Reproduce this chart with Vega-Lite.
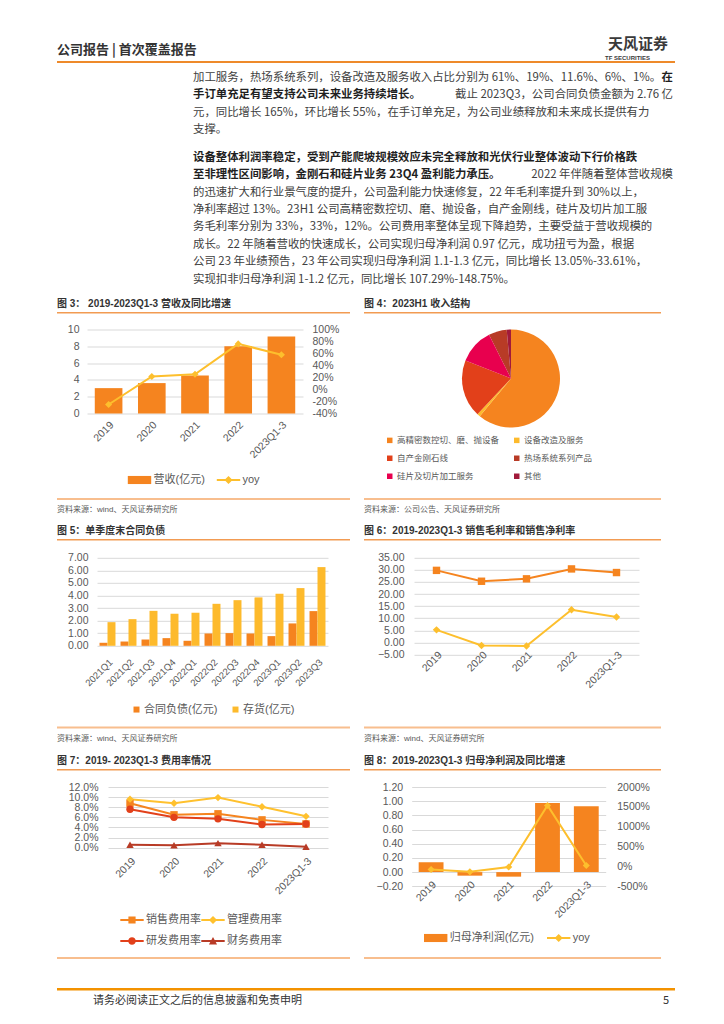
{
  "$schema": "https://vega.github.io/schema/vega-lite/v6.json",
  "background": "#ffffff",
  "padding": {"left": 57, "top": 37, "right": 10, "bottom": 10},
  "spacing": 13,
  "resolve": {"scale": {"color": "independent", "shape": "independent"}, "legend": {"color": "independent", "shape": "independent"}},
  "config": {
    "font": "Liberation Sans, Noto Sans CJK SC, sans-serif",
    "view": {"stroke": null},
    "axis": {"labelFontSize": 10.5, "labelColor": "#595959", "ticks": false, "domain": false, "gridColor": "#D9D9D9", "labelOverlap": false, "labelFont": "Liberation Sans, Noto Sans CJK SC, sans-serif"},
    "axisX": {"labelAngle": -45, "labelPadding": 6, "grid": false},
    "legend": {"labelFontSize": 11, "labelColor": "#595959", "labelFont": "Liberation Sans, Noto Sans CJK SC, sans-serif", "orient": "bottom", "direction": "horizontal", "symbolStrokeWidth": 0, "layout": {"bottom": {"anchor": "middle", "direction": "vertical", "margin": 7, "center": true}}},
    "title": {"fontSize": 10, "fontWeight": "bold", "color": "#333333", "anchor": "start", "font": "Liberation Sans, Noto Sans CJK SC, sans-serif"},
    "text": {"font": "Noto Sans CJK SC, sans-serif"}
  },
  "datasets": {
    "header": [{"label": "公司报告 | 首次覆盖报告"}],
    "brand": [{"name": "天风证券", "en": "TF SECURITIES"}],
    "footer": [{"note": "请务必阅读正文之后的信息披露和免责申明", "page": "5"}],
    "p1": [
      {"line": 1, "part": "head", "text": "加工服务，热场系统系列，设备改造及服务收入占比分别为 61%、19%、11.6%、6%、1%。"},
      {"line": 2, "part": "tail", "text": "截止 2023Q3，公司合同负债金额为 2.76 亿"},
      {"line": 3, "part": "head", "text": "元，同比增长 165%，环比增长 55%，在手订单充足，为公司业绩释放和未来成长提供有力"},
      {"line": 4, "part": "head", "text": "支撑。"}
    ],
    "p1b": [
      {"line": 1, "part": "tail", "text": "在"},
      {"line": 2, "part": "head", "text": "手订单充足有望支持公司未来业务持续增长。"}
    ],
    "p2": [
      {"line": 2, "part": "tail", "text": "2022 年伴随着整体营收规模"},
      {"line": 3, "part": "head", "text": "的迅速扩大和行业景气度的提升，公司盈利能力快速修复，22 年毛利率提升到 30%以上，"},
      {"line": 4, "part": "head", "text": "净利率超过 13%。23H1 公司高精密数控切、磨、抛设备，自产金刚线，硅片及切片加工服"},
      {"line": 5, "part": "head", "text": "务毛利率分别为 33%，33%，12%。公司费用率整体呈现下降趋势，主要受益于营收规模的"},
      {"line": 6, "part": "head", "text": "成长。22 年随着营收的快速成长，公司实现归母净利润 0.97 亿元，成功扭亏为盈，根据"},
      {"line": 7, "part": "head", "text": "公司 23 年业绩预告，23 年公司实现归母净利润 1.1-1.3 亿元，同比增长 13.05%-33.61%，"},
      {"line": 8, "part": "head", "text": "实现扣非归母净利润 1-1.2 亿元，同比增长 107.29%-148.75%。"}
    ],
    "p2b": [
      {"line": 1, "part": "head", "text": "设备整体利润率稳定，受到产能爬坡规模效应未完全释放和光伏行业整体波动下行价格跌"},
      {"line": 2, "part": "head", "text": "至非理性区间影响，金刚石和硅片业务 23Q4 盈利能力承压。"}
    ],
    "rev": [
      {"period": "2019", "revenue": 3.02, "yoy": -25},
      {"period": "2020", "revenue": 3.62, "yoy": 21.7},
      {"period": "2021", "revenue": 4.52, "yoy": 25.5},
      {"period": "2022", "revenue": 8.02, "yoy": 76},
      {"period": "2023Q1-3", "revenue": 9.17, "yoy": 57.8}
    ],
    "mix": [
      {"segment": "高精密数控切、磨、抛设备", "share": 61},
      {"segment": "设备改造及服务", "share": 1},
      {"segment": "自产金刚石线", "share": 19},
      {"segment": "热场系统系列产品", "share": 6},
      {"segment": "硅片及切片加工服务", "share": 11.6},
      {"segment": "其他", "share": 1.4}
    ],
    "liab": [
      {"quarter": "2021Q1", "series": "合同负债(亿元)", "value": 0.24},
      {"quarter": "2021Q1", "series": "存货(亿元)", "value": 1.88},
      {"quarter": "2021Q2", "series": "合同负债(亿元)", "value": 0.34},
      {"quarter": "2021Q2", "series": "存货(亿元)", "value": 2.12},
      {"quarter": "2021Q3", "series": "合同负债(亿元)", "value": 0.5},
      {"quarter": "2021Q3", "series": "存货(亿元)", "value": 2.78},
      {"quarter": "2021Q4", "series": "合同负债(亿元)", "value": 0.61},
      {"quarter": "2021Q4", "series": "存货(亿元)", "value": 2.55},
      {"quarter": "2022Q1", "series": "合同负债(亿元)", "value": 0.4},
      {"quarter": "2022Q1", "series": "存货(亿元)", "value": 2.63},
      {"quarter": "2022Q2", "series": "合同负债(亿元)", "value": 0.98},
      {"quarter": "2022Q2", "series": "存货(亿元)", "value": 3.34},
      {"quarter": "2022Q3", "series": "合同负债(亿元)", "value": 1.01},
      {"quarter": "2022Q3", "series": "存货(亿元)", "value": 3.63},
      {"quarter": "2022Q4", "series": "合同负债(亿元)", "value": 0.98},
      {"quarter": "2022Q4", "series": "存货(亿元)", "value": 3.85},
      {"quarter": "2023Q1", "series": "合同负债(亿元)", "value": 0.77},
      {"quarter": "2023Q1", "series": "存货(亿元)", "value": 4.14},
      {"quarter": "2023Q2", "series": "合同负债(亿元)", "value": 1.78},
      {"quarter": "2023Q2", "series": "存货(亿元)", "value": 4.59},
      {"quarter": "2023Q3", "series": "合同负债(亿元)", "value": 2.76},
      {"quarter": "2023Q3", "series": "存货(亿元)", "value": 6.26}
    ],
    "margin": [
      {"year": "2019", "series": "销售毛利率(%)", "value": 29.8},
      {"year": "2020", "series": "销售毛利率(%)", "value": 25.3},
      {"year": "2021", "series": "销售毛利率(%)", "value": 26.3},
      {"year": "2022", "series": "销售毛利率(%)", "value": 30.4},
      {"year": "2023Q1-3", "series": "销售毛利率(%)", "value": 28.9},
      {"year": "2019", "series": "销售净利率(%)", "value": 5.2},
      {"year": "2020", "series": "销售净利率(%)", "value": -1.3},
      {"year": "2021", "series": "销售净利率(%)", "value": -1.5},
      {"year": "2022", "series": "销售净利率(%)", "value": 13.5},
      {"year": "2023Q1-3", "series": "销售净利率(%)", "value": 10.5}
    ],
    "exp": [
      {"year": "2019", "series": "销售费用率", "value": 8.8},
      {"year": "2020", "series": "销售费用率", "value": 6.5},
      {"year": "2021", "series": "销售费用率", "value": 6.7},
      {"year": "2022", "series": "销售费用率", "value": 5.5},
      {"year": "2023Q1-3", "series": "销售费用率", "value": 4.7},
      {"year": "2019", "series": "管理费用率", "value": 9.6},
      {"year": "2020", "series": "管理费用率", "value": 8.8},
      {"year": "2021", "series": "管理费用率", "value": 9.9},
      {"year": "2022", "series": "管理费用率", "value": 8.1},
      {"year": "2023Q1-3", "series": "管理费用率", "value": 6.2},
      {"year": "2019", "series": "研发费用率", "value": 7.6},
      {"year": "2020", "series": "研发费用率", "value": 6.0},
      {"year": "2021", "series": "研发费用率", "value": 5.7},
      {"year": "2022", "series": "研发费用率", "value": 4.6},
      {"year": "2023Q1-3", "series": "研发费用率", "value": 4.7},
      {"year": "2019", "series": "财务费用率", "value": 0.6},
      {"year": "2020", "series": "财务费用率", "value": 0.5},
      {"year": "2021", "series": "财务费用率", "value": 0.9},
      {"year": "2022", "series": "财务费用率", "value": 0.6},
      {"year": "2023Q1-3", "series": "财务费用率", "value": 0.2}
    ],
    "profit": [
      {"period": "2019", "profit": 0.138, "yoy": -75},
      {"period": "2020", "profit": -0.05, "yoy": -136},
      {"period": "2021", "profit": -0.064, "yoy": -15},
      {"period": "2022", "profit": 0.975, "yoy": 1536},
      {"period": "2023Q1-3", "profit": 0.93, "yoy": 25}
    ],
    "blank": [{"k": 1}]
  },
  "vconcat": [
    {
      "spacing": 12,
      "resolve": {"scale": {"color": "independent", "shape": "independent"}, "legend": {"color": "independent", "shape": "independent"}},
      "vconcat": [
        {
          "spacing": 7,
          "resolve": {"scale": {"color": "independent", "shape": "independent"}, "legend": {"color": "independent", "shape": "independent"}},
          "vconcat": [
            {
              "spacing": 9,
              "vconcat": [
                {
                  "width": 618, "height": 2,
                  "view": {"fill": "#EE8A2A", "stroke": null},
                  "layer": [
                    {"data": {"name": "header"}, "mark": {"type": "text", "align": "left", "baseline": "middle", "dy": -12, "fontSize": 13, "fontWeight": "bold", "color": "#333333"},
                     "encoding": {"x": {"datum": "start", "type": "nominal", "scale": {"domain": ["start", "end"], "padding": 0}, "axis": null}, "text": {"field": "label", "type": "nominal"}}},
                    {"data": {"name": "brand"}, "mark": {"type": "text", "align": "right", "baseline": "middle", "dx": -7, "dy": -18, "fontSize": 15, "fontWeight": "bold", "color": "#3A3A3A"},
                     "encoding": {"x": {"datum": "end", "type": "nominal", "axis": null}, "text": {"field": "name", "type": "nominal"}}},
                    {"data": {"name": "brand"}, "mark": {"type": "text", "align": "right", "baseline": "middle", "dx": -25, "dy": -4, "fontSize": 6, "fontWeight": "bold", "color": "#3A3A3A", "font": "Liberation Sans"},
                     "encoding": {"x": {"datum": "end", "type": "nominal", "axis": null}, "text": {"field": "en", "type": "nominal"}}}
                  ]
                },
                {
                  "bounds": "flush", "spacing": 135,
                  "hconcat": [
                    {"width": 1, "height": 1, "data": {"name": "blank"}, "mark": {"type": "point", "size": 0, "strokeWidth": 0, "opacity": 0}},
                    {
                      "width": 480, "height": 64.2,
                      "encoding": {"y": {"field": "line", "type": "ordinal", "scale": {"domain": [1, 2, 3, 4], "padding": 0.345}, "axis": null}},
                      "layer": [
                        {"data": {"name": "p1"}, "transform": [{"filter": "datum.part === 'head'"}], "mark": {"type": "text", "align": "left", "baseline": "middle", "fontSize": 11.4, "color": "#404040"},
                         "encoding": {"x": {"datum": "start", "type": "nominal", "scale": {"domain": ["start", "end"], "padding": 0}, "axis": null}, "text": {"field": "text", "type": "nominal"}}},
                        {"data": {"name": "p1"}, "transform": [{"filter": "datum.part === 'tail'"}], "mark": {"type": "text", "align": "right", "baseline": "middle", "fontSize": 11.4, "color": "#404040"},
                         "encoding": {"x": {"datum": "end", "type": "nominal", "axis": null}, "text": {"field": "text", "type": "nominal"}}},
                        {"data": {"name": "p1b"}, "transform": [{"filter": "datum.part === 'head'"}], "mark": {"type": "text", "align": "left", "baseline": "middle", "fontSize": 11.4, "fontWeight": "bold", "color": "#1F1F1F"},
                         "encoding": {"x": {"datum": "start", "type": "nominal", "axis": null}, "text": {"field": "text", "type": "nominal"}}},
                        {"data": {"name": "p1b"}, "transform": [{"filter": "datum.part === 'tail'"}], "mark": {"type": "text", "align": "right", "baseline": "middle", "fontSize": 11.4, "fontWeight": "bold", "color": "#1F1F1F"},
                         "encoding": {"x": {"datum": "end", "type": "nominal", "axis": null}, "text": {"field": "text", "type": "nominal"}}}
                      ]
                    }
                  ]
                },
                {
                  "bounds": "flush", "spacing": 135,
                  "hconcat": [
                    {"width": 1, "height": 1, "data": {"name": "blank"}, "mark": {"type": "point", "size": 0, "strokeWidth": 0, "opacity": 0}},
                    {
                      "width": 480, "height": 145.4,
                      "encoding": {"y": {"field": "line", "type": "ordinal", "scale": {"domain": [1, 2, 3, 4, 5, 6, 7, 8], "padding": 0.678}, "axis": null}},
                      "layer": [
                        {"data": {"name": "p2"}, "transform": [{"filter": "datum.part === 'head'"}], "mark": {"type": "text", "align": "left", "baseline": "middle", "fontSize": 11.4, "color": "#404040"},
                         "encoding": {"x": {"datum": "start", "type": "nominal", "scale": {"domain": ["start", "end"], "padding": 0}, "axis": null}, "text": {"field": "text", "type": "nominal"}}},
                        {"data": {"name": "p2"}, "transform": [{"filter": "datum.part === 'tail'"}], "mark": {"type": "text", "align": "right", "baseline": "middle", "fontSize": 11.4, "color": "#404040"},
                         "encoding": {"x": {"datum": "end", "type": "nominal", "axis": null}, "text": {"field": "text", "type": "nominal"}}},
                        {"data": {"name": "p2b"}, "transform": [{"filter": "datum.part === 'head'"}], "mark": {"type": "text", "align": "left", "baseline": "middle", "fontSize": 11.4, "fontWeight": "bold", "color": "#1F1F1F"},
                         "encoding": {"x": {"datum": "start", "type": "nominal", "axis": null}, "text": {"field": "text", "type": "nominal"}}}
                      ]
                    }
                  ]
                }
              ]
            },
            {
              "spacing": 10.5,
              "resolve": {"scale": {"color": "independent", "shape": "independent"}, "legend": {"color": "independent", "shape": "independent"}},
              "vconcat": [
                {
                  "bounds": "flush", "spacing": 14,
                  "hconcat": [
                    {"width": 293, "height": 1.5, "view": {"fill": "#F29B52", "stroke": null}, "data": {"name": "blank"}, "mark": {"type": "point", "size": 0, "strokeWidth": 0, "opacity": 0}, "title": {"text": "图 3： 2019-2023Q1-3 营收及同比增速", "offset": 3}},
                    {"width": 297, "height": 1.5, "view": {"fill": "#F29B52", "stroke": null}, "data": {"name": "blank"}, "mark": {"type": "point", "size": 0, "strokeWidth": 0, "opacity": 0}, "title": {"text": "图 4：2023H1 收入结构", "offset": 3}}
                  ]
                },
                {
                  "bounds": "flush", "spacing": 29,
                  "resolve": {"scale": {"color": "independent", "shape": "independent"}, "legend": {"color": "independent", "shape": "independent"}},
                  "hconcat": [
                    {"width": 1, "height": 1, "data": {"name": "blank"}, "mark": {"type": "point", "size": 0, "strokeWidth": 0, "opacity": 0}},
                    {
                      "bounds": "flush", "spacing": 59.5,
                      "resolve": {"scale": {"color": "independent", "shape": "independent"}, "legend": {"color": "independent", "shape": "independent"}},
                      "hconcat": [
                        {
                          "width": 216, "height": 84,
                          "data": {"name": "rev"},
                          "encoding": {"x": {"field": "period", "type": "nominal", "sort": null, "title": null, "scale": {"paddingInner": 0.36, "paddingOuter": 0.18}}},
                          "layer": [
                            {"mark": {"type": "bar"},
                             "encoding": {
                               "y": {"field": "revenue", "type": "quantitative", "title": null, "scale": {"domain": [0, 10], "nice": false}, "axis": {"values": [0, 2, 4, 6, 8, 10], "grid": true, "labelPadding": 8}},
                               "color": {"datum": "营收(亿元)", "scale": {"domain": ["营收(亿元)", "yoy"], "range": ["#F5841F", "#FDBF2D"]},
                                 "legend": {"title": null, "symbolType": {"expr": "datum.value === 'yoy' ? 'M-1.3,-0.1H1.3V0.1H-1.3Z M0,-0.45L0.45,0L0,0.45L-0.45,0Z' : 'M-1.3,-0.45H1.3V0.45H-1.3Z'"}, "symbolSize": 324, "labelOffset": 5, "columnPadding": 11, "offset": 8, "padding": 2.5}}
                             }},
                            {"encoding": {
                               "y": {"field": "yoy", "type": "quantitative", "title": null, "scale": {"domain": [-40, 100], "nice": false}, "axis": {"orient": "right", "values": [-40, -20, 0, 20, 40, 60, 80, 100], "labelExpr": "datum.value + '%'", "grid": false, "labelPadding": 9}},
                               "color": {"datum": "yoy", "legend": null}},
                             "layer": [
                               {"mark": {"type": "line", "strokeWidth": 2}},
                               {"mark": {"type": "point", "shape": "diamond", "filled": true, "opacity": 1, "size": 50}}
                             ]}
                          ],
                          "resolve": {"scale": {"y": "independent"}}
                        },
                        {
                          "width": 297, "height": 98,
                          "data": {"name": "mix"},
                          "mark": {"type": "arc", "outerRadius": 49},
                          "encoding": {
                            "theta": {"field": "share", "type": "quantitative", "scale": {"range": [6.283185, 0]}},
                            "color": {"field": "segment", "type": "nominal",
                              "sort": ["高精密数控切、磨、抛设备", "设备改造及服务", "自产金刚石线", "热场系统系列产品", "硅片及切片加工服务", "其他"],
                              "scale": {"domain": ["高精密数控切、磨、抛设备", "设备改造及服务", "自产金刚石线", "热场系统系列产品", "硅片及切片加工服务", "其他"], "range": ["#F5841F", "#FDBA2C", "#E2401A", "#B83B26", "#E8004E", "#A11A3A"]},
                              "legend": {"title": null, "orient": "none", "legendX": 23, "legendY": 106.5, "columns": 2, "symbolType": "square", "symbolSize": 30, "labelFontSize": 8.5, "rowPadding": 9, "columnPadding": 13, "labelOffset": 3}}
                          }
                        }
                      ]
                    }
                  ]
                },
                {
                  "bounds": "flush", "spacing": 14,
                  "hconcat": [
                    {"width": 293, "height": 2, "view": {"fill": "#F8BE8E", "stroke": null}, "data": {"name": "blank"}, "mark": {"type": "point", "size": 0, "strokeWidth": 0, "opacity": 0}, "title": {"text": "资料来源：wind、天风证券研究所", "orient": "bottom", "offset": 6, "fontSize": 8, "fontWeight": "normal", "color": "#595959"}},
                    {"width": 297, "height": 2, "view": {"fill": "#F8BE8E", "stroke": null}, "data": {"name": "blank"}, "mark": {"type": "point", "size": 0, "strokeWidth": 0, "opacity": 0}, "title": {"text": "资料来源：公司公告、天风证券研究所", "orient": "bottom", "offset": 6, "fontSize": 8, "fontWeight": "normal", "color": "#595959"}}
                  ]
                }
              ]
            }
          ]
        },
        {
          "spacing": 11.8,
          "resolve": {"scale": {"color": "independent", "shape": "independent"}, "legend": {"color": "independent", "shape": "independent"}},
          "vconcat": [
            {
              "bounds": "flush", "spacing": 14,
              "hconcat": [
                {"width": 293, "height": 1.5, "view": {"fill": "#F29B52", "stroke": null}, "data": {"name": "blank"}, "mark": {"type": "point", "size": 0, "strokeWidth": 0, "opacity": 0}, "title": {"text": "图 5：单季度末合同负债", "offset": 3}},
                {"width": 297, "height": 1.5, "view": {"fill": "#F29B52", "stroke": null}, "data": {"name": "blank"}, "mark": {"type": "point", "size": 0, "strokeWidth": 0, "opacity": 0}, "title": {"text": "图 6：2019-2023Q1-3 销售毛利率和销售净利率", "offset": 3}}
              ]
            },
            {
              "bounds": "flush", "spacing": 39,
              "resolve": {"scale": {"color": "independent", "shape": "independent"}, "legend": {"color": "independent", "shape": "independent"}},
              "hconcat": [
                {"width": 1, "height": 1, "data": {"name": "blank"}, "mark": {"type": "point", "size": 0, "strokeWidth": 0, "opacity": 0}},
                {
                  "bounds": "flush", "spacing": 86,
                  "resolve": {"scale": {"color": "independent", "shape": "independent"}, "legend": {"color": "independent", "shape": "independent"}},
                  "hconcat": [
                    {
                      "width": 231, "height": 88,
                      "data": {"name": "liab"},
                      "mark": {"type": "bar"},
                      "encoding": {
                        "x": {"field": "quarter", "type": "nominal", "sort": null, "title": null, "scale": {"paddingInner": 0.24, "paddingOuter": 0.12}, "axis": {"labelFontSize": 9.5, "labelPadding": 11}},
                        "xOffset": {"field": "series", "type": "nominal", "sort": ["合同负债(亿元)", "存货(亿元)"], "scale": {"paddingInner": 0, "paddingOuter": 0}},
                        "y": {"field": "value", "type": "quantitative", "title": null, "scale": {"domain": [0, 7], "nice": false}, "axis": {"values": [0, 1, 2, 3, 4, 5, 6, 7], "format": ".2f", "grid": true, "labelPadding": 9}},
                        "color": {"field": "series", "type": "nominal", "sort": ["合同负债(亿元)", "存货(亿元)"], "scale": {"domain": ["合同负债(亿元)", "存货(亿元)"], "range": ["#F5841F", "#FDBA2C"]},
                          "legend": {"title": null, "symbolType": "square", "symbolSize": 36, "columnPadding": 12, "labelOffset": 2, "offset": 16}}
                      }
                    },
                    {
                      "width": 225, "height": 96.7,
                      "data": {"name": "margin"},
                      "encoding": {
                        "x": {"field": "year", "type": "nominal", "sort": null, "title": null, "scale": {"padding": 0.5}, "axis": {"labelPadding": -5}},
                        "y": {"field": "value", "type": "quantitative", "title": null, "scale": {"domain": [-5, 35], "nice": false}, "axis": {"values": [-5, 0, 5, 10, 15, 20, 25, 30, 35], "format": ".2f", "grid": true, "labelPadding": 10}}
                      },
                      "layer": [
                        {"mark": {"type": "line", "strokeWidth": 2},
                         "encoding": {"color": {"field": "series", "type": "nominal", "sort": ["销售毛利率(%)", "销售净利率(%)"], "scale": {"domain": ["销售毛利率(%)", "销售净利率(%)"], "range": ["#F5841F", "#FDBF2D"]}, "legend": null}}},
                        {"mark": {"type": "point", "filled": true, "opacity": 1, "size": 55},
                         "encoding": {
                           "shape": {"field": "series", "type": "nominal", "scale": {"domain": ["销售毛利率(%)", "销售净利率(%)"], "range": ["square", "diamond"]}, "legend": null},
                           "color": {"field": "series", "type": "nominal", "sort": ["销售毛利率(%)", "销售净利率(%)"],
                             "legend": {"title": null, "symbolType": {"expr": "datum.value === '销售毛利率(%)' ? 'M-1.3,-0.1H1.3V0.1H-1.3Z M-0.4,-0.4H0.4V0.4H-0.4Z' : 'M-1.3,-0.1H1.3V0.1H-1.3Z M0,-0.45L0.45,0L0,0.45L-0.45,0Z'"}, "symbolSize": 324, "labelOffset": 5, "columnPadding": 15, "offset": 22, "padding": 6}}
                         }}
                      ]
                    }
                  ]
                }
              ]
            },
            {
              "bounds": "flush", "spacing": 14,
              "hconcat": [
                {"width": 293, "height": 2, "view": {"fill": "#F8BE8E", "stroke": null}, "data": {"name": "blank"}, "mark": {"type": "point", "size": 0, "strokeWidth": 0, "opacity": 0}, "title": {"text": "资料来源：wind、天风证券研究所", "orient": "bottom", "offset": 6, "fontSize": 8, "fontWeight": "normal", "color": "#595959"}},
                {"width": 297, "height": 2, "view": {"fill": "#F8BE8E", "stroke": null}, "data": {"name": "blank"}, "mark": {"type": "point", "size": 0, "strokeWidth": 0, "opacity": 0}, "title": {"text": "资料来源：wind、天风证券研究所", "orient": "bottom", "offset": 6, "fontSize": 8, "fontWeight": "normal", "color": "#595959"}}
              ]
            }
          ]
        }
      ]
    },
    {
      "spacing": 29,
      "resolve": {"scale": {"color": "independent", "shape": "independent"}, "legend": {"color": "independent", "shape": "independent"}},
      "vconcat": [
        {
          "spacing": 11,
          "resolve": {"scale": {"color": "independent", "shape": "independent"}, "legend": {"color": "independent", "shape": "independent"}},
          "vconcat": [
            {
              "bounds": "flush", "spacing": 14,
              "hconcat": [
                {"width": 293, "height": 1.5, "view": {"fill": "#F29B52", "stroke": null}, "data": {"name": "blank"}, "mark": {"type": "point", "size": 0, "strokeWidth": 0, "opacity": 0}, "title": {"text": "图 7：2019- 2023Q1-3 费用率情况", "offset": 3}},
                {"width": 297, "height": 1.5, "view": {"fill": "#F29B52", "stroke": null}, "data": {"name": "blank"}, "mark": {"type": "point", "size": 0, "strokeWidth": 0, "opacity": 0}, "title": {"text": "图 8：2019-2023Q1-3 归母净利润及同比增速", "offset": 3}}
              ]
            },
            {
              "bounds": "flush", "spacing": 50,
              "resolve": {"scale": {"color": "independent", "shape": "independent"}, "legend": {"color": "independent", "shape": "independent"}},
              "hconcat": [
                {"width": 1, "height": 1, "data": {"name": "blank"}, "mark": {"type": "point", "size": 0, "strokeWidth": 0, "opacity": 0}},
                {
                  "bounds": "flush", "spacing": 83.7,
                  "resolve": {"scale": {"color": "independent", "shape": "independent"}, "legend": {"color": "independent", "shape": "independent"}},
                  "hconcat": [
                    {
                      "width": 220, "height": 60.7,
                      "data": {"name": "exp"},
                      "encoding": {
                        "x": {"field": "year", "type": "nominal", "sort": null, "title": null, "scale": {"padding": 0.5}, "axis": {"labelPadding": 8}},
                        "y": {"field": "value", "type": "quantitative", "title": null, "scale": {"domain": [0, 12], "nice": false}, "axis": {"values": [0, 2, 4, 6, 8, 10, 12], "labelExpr": "format(datum.value, '.1f') + '%'", "grid": true, "labelPadding": 10}}
                      },
                      "layer": [
                        {"mark": {"type": "line", "strokeWidth": 2},
                         "encoding": {"color": {"field": "series", "type": "nominal", "scale": {"domain": ["销售费用率", "管理费用率", "研发费用率", "财务费用率"], "range": ["#F5841F", "#FFC12E", "#E2401A", "#B83B26"]}, "legend": null}}},
                        {"mark": {"type": "point", "filled": true, "opacity": 1, "size": 55},
                         "encoding": {
                           "shape": {"field": "series", "type": "nominal", "scale": {"domain": ["销售费用率", "管理费用率", "研发费用率", "财务费用率"], "range": ["square", "diamond", "circle", "triangle-up"]}, "legend": null},
                           "color": {"field": "series", "type": "nominal", "scale": {"domain": ["销售费用率", "管理费用率", "研发费用率", "财务费用率"], "range": ["#F5841F", "#FFC12E", "#E2401A", "#B83B26"]},
                             "legend": {"title": null, "orient": "none", "legendX": 15, "legendY": 124, "values": ["销售费用率", "管理费用率"], "symbolType": {"expr": "datum.value === '销售费用率' ? 'M-1.3,-0.1H1.3V0.1H-1.3Z M-0.4,-0.4H0.4V0.4H-0.4Z' : 'M-1.3,-0.1H1.3V0.1H-1.3Z M0,-0.45L0.45,0L0,0.45L-0.45,0Z'"}, "symbolSize": 324, "labelOffset": 5, "columnPadding": 0}}
                         }},
                        {"mark": {"type": "point", "filled": true, "opacity": 0, "size": 1},
                         "encoding": {
                           "color": {"field": "series", "type": "nominal", "scale": {"domain": ["销售费用率", "管理费用率", "研发费用率", "财务费用率"], "range": ["#F5841F", "#FFC12E", "#E2401A", "#B83B26"]},
                             "legend": {"title": null, "orient": "none", "legendX": 15, "legendY": 145, "values": ["研发费用率", "财务费用率"], "symbolOpacity": 1, "symbolType": {"expr": "datum.value === '研发费用率' ? 'M-1.3,-0.1H1.3V0.1H-1.3Z M0.42,0C0.42,0.232,0.232,0.42,0,0.42C-0.232,0.42,-0.42,0.232,-0.42,0C-0.42,-0.232,-0.232,-0.42,0,-0.42C0.232,-0.42,0.42,-0.232,0.42,0Z' : 'M-1.3,-0.1H1.3V0.1H-1.3Z M0,-0.45L0.45,0.38H-0.45Z'"}, "symbolSize": 324, "labelOffset": 5, "columnPadding": 0}}
                         }}
                      ],
                      "resolve": {"scale": {"color": "independent"}, "legend": {"color": "independent"}}
                    },
                    {
                      "width": 194, "height": 99.3,
                      "data": {"name": "profit"},
                      "encoding": {"x": {"field": "period", "type": "nominal", "sort": null, "title": null, "scale": {"paddingInner": 0.36, "paddingOuter": 0.18}, "axis": {"labelPadding": -7}}},
                      "layer": [
                        {"mark": {"type": "bar"},
                         "encoding": {
                           "y": {"field": "profit", "type": "quantitative", "title": null, "scale": {"domain": [-0.2, 1.2], "nice": false}, "axis": {"values": [-0.2, 0, 0.2, 0.4, 0.6, 0.8, 1, 1.2], "format": ".2f", "grid": true, "labelPadding": 9}},
                           "color": {"datum": "归母净利润(亿元)", "scale": {"domain": ["归母净利润(亿元)", "yoy"], "range": ["#F5841F", "#FDBF2D"]},
                             "legend": {"title": null, "symbolType": {"expr": "datum.value === 'yoy' ? 'M-1.3,-0.1H1.3V0.1H-1.3Z M0,-0.45L0.45,0L0,0.45L-0.45,0Z' : 'M-1.3,-0.45H1.3V0.45H-1.3Z'"}, "symbolSize": 324, "labelOffset": 5, "columnPadding": 12, "offset": 9}}
                         }},
                        {"encoding": {
                           "y": {"field": "yoy", "type": "quantitative", "title": null, "scale": {"domain": [-500, 2000], "nice": false}, "axis": {"orient": "right", "values": [-500, 0, 500, 1000, 1500, 2000], "labelExpr": "datum.value + '%'", "grid": false, "labelPadding": 11}},
                           "color": {"datum": "yoy", "legend": null}},
                         "layer": [
                           {"mark": {"type": "line", "strokeWidth": 2}},
                           {"mark": {"type": "point", "shape": "diamond", "filled": true, "opacity": 1, "size": 50}}
                         ]}
                      ],
                      "resolve": {"scale": {"y": "independent"}}
                    }
                  ]
                }
              ]
            },
            {
              "bounds": "flush", "spacing": 14,
              "hconcat": [
                {"width": 293, "height": 2, "view": {"fill": "#F8BE8E", "stroke": null}, "data": {"name": "blank"}, "mark": {"type": "point", "size": 0, "strokeWidth": 0, "opacity": 0}},
                {"width": 297, "height": 2, "view": {"fill": "#F8BE8E", "stroke": null}, "data": {"name": "blank"}, "mark": {"type": "point", "size": 0, "strokeWidth": 0, "opacity": 0}}
              ]
            }
          ]
        },
        {
          "width": 618, "height": 2.5,
          "view": {"fill": "#F39200", "stroke": null},
          "layer": [
            {"data": {"name": "footer"}, "mark": {"type": "text", "align": "left", "baseline": "middle", "dx": 36, "dy": 12, "fontSize": 11, "color": "#333333"},
             "encoding": {"x": {"datum": "start", "type": "nominal", "scale": {"domain": ["start", "end"], "padding": 0}, "axis": null}, "text": {"field": "note", "type": "nominal"}}},
            {"data": {"name": "footer"}, "mark": {"type": "text", "align": "right", "baseline": "middle", "dx": -6, "dy": 12, "fontSize": 11, "color": "#333333"},
             "encoding": {"x": {"datum": "end", "type": "nominal", "axis": null}, "text": {"field": "page", "type": "nominal"}}}
          ]
        }
      ]
    }
  ]
}
